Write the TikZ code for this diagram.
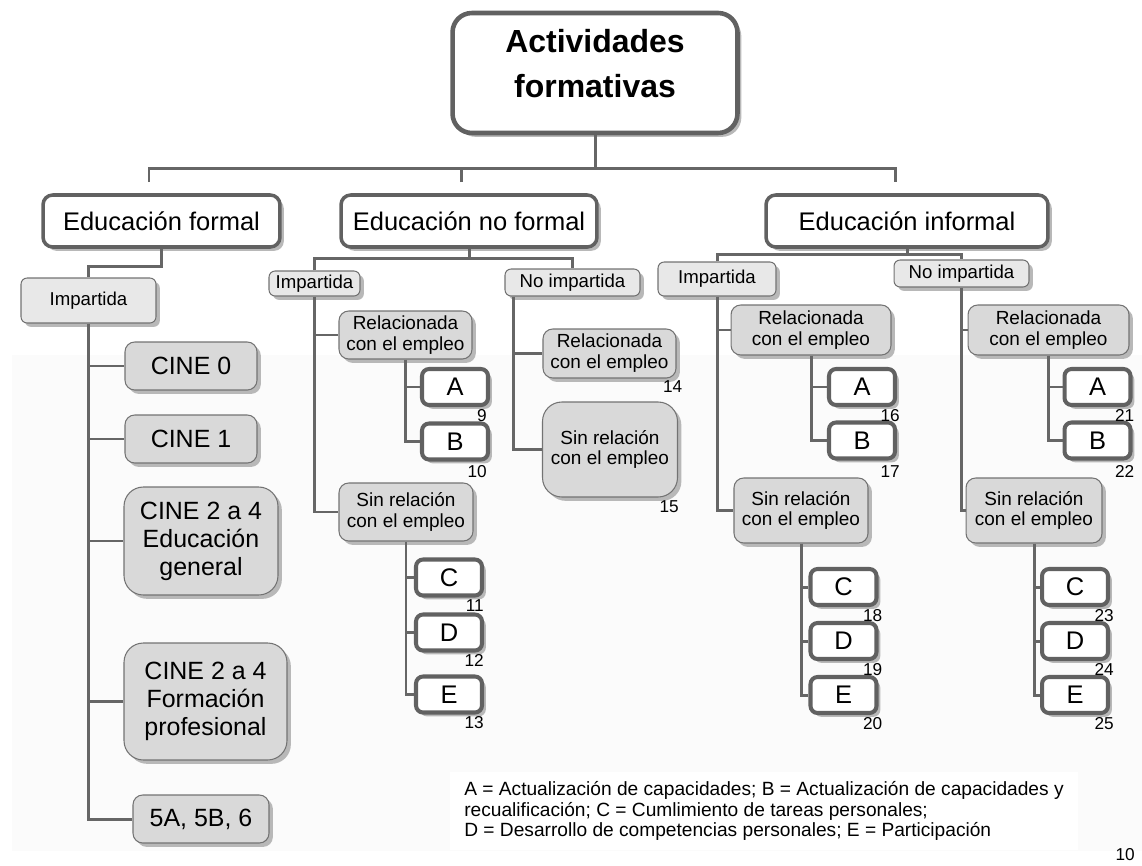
\documentclass[tikz,border=0pt]{standalone}
\usepackage{fontspec}
\setmainfont{Liberation Sans}
\usetikzlibrary{calc,shadows}

\begin{document}
\begin{tikzpicture}[x=0.02cm,y=-0.02cm]
	\tikzstyle{link}=[draw=black!60,line width=1.7pt]
	\tikzstyle{boxshadow}=[drop shadow={shadow xshift=2.2pt,shadow yshift=-2.2pt,fill=black!28,opacity=1}]
	\tikzstyle{mainbox}=[boxshadow,draw=black!62,fill=white,line width=2.6pt,rounded corners=11pt,minimum width=5.7cm,minimum height=2.4cm,align=center,text depth=0.38cm,font=\fontsize{18.2pt}{25.5pt}\selectfont\bfseries]
	\tikzstyle{catbox}=[boxshadow,draw=black!62,fill=white,line width=2pt,rounded corners=5.5pt,minimum height=1.04cm,inner sep=2pt,font=\fontsize{14.5pt}{16pt}\selectfont]
	\tikzstyle{tagbox}=[boxshadow,draw=black!55,fill=black!9,line width=0.6pt,rounded corners=3.5pt,inner sep=1pt,font=\fontsize{10.6pt}{12pt}\selectfont]
	\tikzstyle{subbox}=[boxshadow,draw=black!55,fill=black!15,line width=0.6pt,rounded corners=5.5pt,inner sep=1pt,align=center,font=\fontsize{10.8pt}{11.9pt}\selectfont]
	\tikzstyle{cinebox}=[subbox,font=\fontsize{14.2pt}{16pt}\selectfont]
	\tikzstyle{letterbox}=[boxshadow,draw=black!62,fill=white,line width=2.3pt,rounded corners=4pt,minimum width=1.32cm,minimum height=0.72cm,inner sep=0pt,font=\fontsize{14.5pt}{16pt}\selectfont]
	\tikzstyle{num}=[anchor=north east,inner sep=0pt,font=\fontsize{9.8pt}{10pt}\selectfont]

	\useasboundingbox (0,0) rectangle (1142,865);
	\fill [black!1.5] (12,355) rectangle (1142,851);

	\node (top) [mainbox] at (595,73) {Actividades\\formativas};

	\node (EF) [catbox, minimum width=4.74cm] at (161.5,221) {Educación formal};
	\node (ENF) [catbox, minimum width=5.12cm] at (469,221) {Educación no formal};
	\node (EI) [catbox, minimum width=5.64cm] at (907,221) {Educación informal};

	% formal
	\node (EFimp) [tagbox, minimum width=2.7cm, minimum height=0.9cm] at (88.5,300.5) {Impartida};
	\node (cine0) [cinebox, minimum width=2.64cm, minimum height=0.96cm] at (191,366) {CINE 0};
	\node (cine1) [cinebox, minimum width=2.64cm, minimum height=0.96cm] at (191,439) {CINE 1};
	\node (cineG) [cinebox, minimum width=3.08cm, minimum height=2.16cm, rounded corners=11pt] at (201,541) {CINE 2 a 4\\Educación\\general};
	\node (cineF) [cinebox, minimum width=3.26cm, minimum height=2.34cm, rounded corners=11pt] at (205.5,701.5) {CINE 2 a 4\\Formación\\profesional};
	\node (cine5) [cinebox, minimum width=2.72cm, minimum height=0.96cm] at (201,819) {5A, 5B, 6};

	% no formal
	\node (NFimp) [tagbox, minimum width=1.82cm, minimum height=0.5cm] at (314.5,283.5) {Impartida};
	\node (NFno) [tagbox, minimum width=2.7cm, minimum height=0.54cm] at (572.5,282.5) {No impartida};
	\node (NFrel) [subbox, minimum width=2.66cm, minimum height=0.96cm] at (405.5,335) {Relacionada\\con el empleo};
	\node (NFa) [letterbox] at (455,387) {A};
	\node (NFb) [letterbox] at (455,441.5) {B};
	\node (NFsin) [subbox, minimum width=2.68cm, minimum height=1.16cm] at (406,512) {Sin relación\\con el empleo};
	\node (NFc) [letterbox] at (449,577.5) {C};
	\node (NFd) [letterbox] at (449,632.5) {D};
	\node (NFe) [letterbox] at (449,694.5) {E};
	\node (NFrel2) [subbox, minimum width=2.66cm, minimum height=0.98cm] at (609.5,353.5) {Relacionada\\con el empleo};
	\node (NFsin2) [subbox, minimum width=2.7cm, minimum height=1.9cm, rounded corners=11pt] at (610,449.5) {Sin relación\\con el empleo};

	% informal
	\node (EIimp) [tagbox, minimum width=2.36cm, minimum height=0.68cm] at (717,279) {Impartida};
	\node (EIno) [tagbox, minimum width=2.7cm, minimum height=0.54cm] at (961.5,273.5) {No impartida};
	\node (EIrel) [subbox, minimum width=3.2cm, minimum height=1cm] at (811,330) {Relacionada\\con el empleo};
	\node (EIa) [letterbox] at (862,387) {A};
	\node (EIb) [letterbox] at (862,440.5) {B};
	\node (EIsin) [subbox, minimum width=2.68cm, minimum height=1.3cm] at (801,510.5) {Sin relación\\con el empleo};
	\node (EIc) [letterbox] at (843.5,587) {C};
	\node (EId) [letterbox] at (843.5,641) {D};
	\node (EIe) [letterbox] at (843.5,695) {E};
	\node (EIrel2) [subbox, minimum width=3.22cm, minimum height=1cm] at (1048.5,330) {Relacionada\\con el empleo};
	\node (EIa2) [letterbox] at (1097.5,387) {A};
	\node (EIb2) [letterbox] at (1097.5,440.5) {B};
	\node (EIsin2) [subbox, minimum width=2.72cm, minimum height=1.3cm] at (1034,510.5) {Sin relación\\con el empleo};
	\node (EIc2) [letterbox] at (1075,587) {C};
	\node (EId2) [letterbox] at (1075,641) {D};
	\node (EIe2) [letterbox] at (1075,695) {E};

	% numbers
	\node (n9) [num] at ($(NFa.south east)+(-3,2)$) {9};
	\node (n10) [num] at ($(NFb.south east)+(-3,4)$) {10};
	\node (n11) [num] at ($(NFc.south east)+(0,2)$) {11};
	\node (n12) [num] at ($(NFd.south east)+(0,2)$) {12};
	\node (n13) [num] at ($(NFe.south east)+(0,2)$) {13};
	\node (n14) [num] at ($(NFrel2.south east)+(6,2)$) {14};
	\node (n15) [num] at ($(NFsin2.south east)+(1,3)$) {15};
	\node (n16) [num] at ($(EIa.south east)+(3,2)$) {16};
	\node (n17) [num] at ($(EIb.south east)+(3,5)$) {17};
	\node (n18) [num] at ($(EIc.south east)+(4,2)$) {18};
	\node (n19) [num] at ($(EId.south east)+(4,2)$) {19};
	\node (n20) [num] at ($(EIe.south east)+(4,2)$) {20};
	\node (n21) [num] at ($(EIa2.south east)+(2,2)$) {21};
	\node (n22) [num] at ($(EIb2.south east)+(2,5)$) {22};
	\node (n23) [num] at ($(EIc2.south east)+(4,2)$) {23};
	\node (n24) [num] at ($(EId2.south east)+(4,2)$) {24};
	\node (n25) [num] at ($(EIe2.south east)+(4,2)$) {25};

	% legend
	\node (legend) [fill=white, minimum width=12.56cm, minimum height=1.56cm, align=left, font=\fontsize{10.9pt}{11.8pt}\selectfont] at (764,811) {A = Actualización de capacidades; B = Actualización de capacidades y\\recualificación; C = Cumlimiento de tareas personales;\\D = Desarrollo de competencias personales; E = Participación};
	\node (pageno) [num] at (1135,848) {10};

	% connectors
	\coordinate (d1) at (149,182);
	\coordinate (d2) at (461,182);
	\coordinate (d3) at (895,182);
	\draw [link] (top.south) -- ++(0,33) coordinate (topb);
	\draw [link] (d1) |- (topb) -| (d3);
	\draw [link] (d2) -- (d2 |- topb);

	\draw [link] (EF.south) -- ++(0,18) -| (EFimp.north);
	\draw [link] (EFimp.south) |- (cine0.west) (EFimp.south) |- (cine1.west) (EFimp.south) |- (cineG.west) (EFimp.south) |- (cineF.west) (EFimp.south) |- (cine5.west);

	\draw [link] (ENF.south) -- ++(0,10) coordinate (nfb);
	\draw [link] (NFimp.north) |- (nfb) -| (NFno.north);
	\draw [link] (NFimp.south) |- (NFrel.west) (NFimp.south) |- (NFsin.west);
	\draw [link] (NFrel.south) |- (NFa.west) (NFrel.south) |- (NFb.west);
	\draw [link] (NFsin.south) |- (NFc.west) (NFsin.south) |- (NFd.west) (NFsin.south) |- (NFe.west);
	\coordinate (NFnos) at ($(NFno.south west)+(9,0)$);
	\draw [link] (NFnos) |- (NFrel2.west) (NFnos) |- (NFsin2.west);

	\draw [link] (EI.south) -- ++(0,6) coordinate (eib);
	\draw [link] (EIimp.north) |- (eib) -| (EIno.north);
	\draw [link] (EIimp.south) |- (EIrel.west) (EIimp.south) |- (EIsin.west);
	\draw [link] (EIrel.south) |- (EIa.west) (EIrel.south) |- (EIb.west);
	\draw [link] (EIsin.south) |- (EIc.west) (EIsin.south) |- (EId.west) (EIsin.south) |- (EIe.west);
	\draw [link] (EIno.south) |- (EIrel2.west) (EIno.south) |- (EIsin2.west);
	\draw [link] (EIrel2.south) |- (EIa2.west) (EIrel2.south) |- (EIb2.west);
	\draw [link] (EIsin2.south) |- (EIc2.west) (EIsin2.south) |- (EId2.west) (EIsin2.south) |- (EIe2.west);
\end{tikzpicture}
\end{document}
